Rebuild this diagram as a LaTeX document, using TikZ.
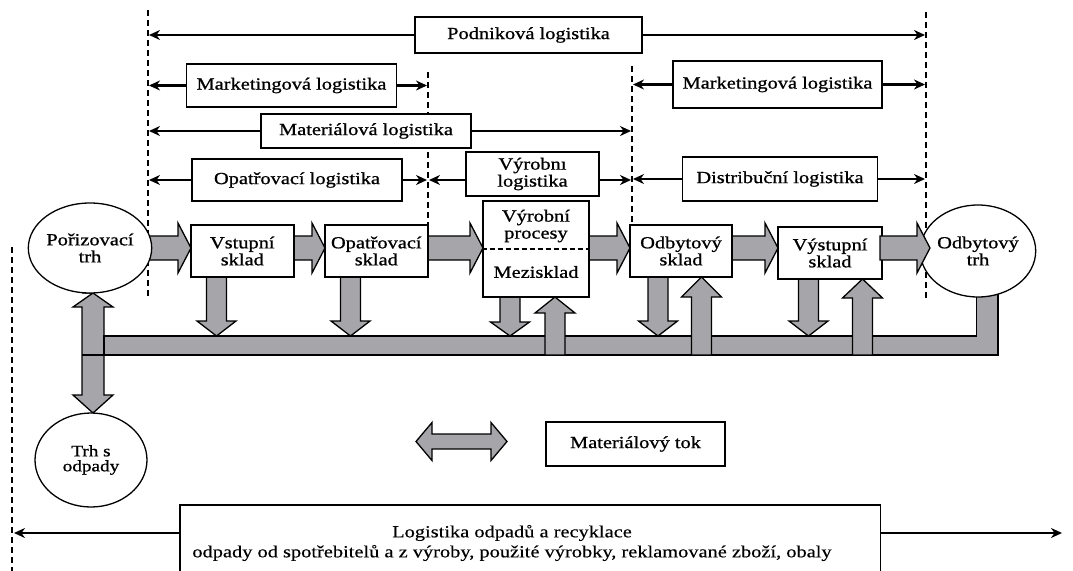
\documentclass[tikz,border=0pt]{standalone}
\usepackage{fontspec}
\setmainfont{Liberation Serif}[FakeStretch=1.2, FakeBold=0.9]
\newfontfamily\plainfont{Liberation Serif}[FakeStretch=1.2, FakeBold=0.3]
\usetikzlibrary{arrows.meta,calc,shapes.geometric}
\definecolor{flow}{RGB}{166,166,170}
\newcommand\rblk[2]{\draw[blk] (#1,236) -- ({#2-13},236) -- ({#2-13},223) -- (#2,248) -- ({#2-13},273) -- ({#2-13},260) -- (#1,260) -- cycle;}
\newcommand\dblk[4]{\draw[blk] ({#1-10},#2) -- ({#1-10},#3) -- ({#1-19.5},#3) -- (#1,#4) -- ({#1+19.5},#3) -- ({#1+10},#3) -- ({#1+10},#2) -- cycle;}
\newcommand\ublk[4]{\draw[blk] ({#1-10},#2) -- ({#1-10},#3) -- ({#1-20},#3) -- (#1,#4) -- ({#1+20},#3) -- ({#1+10},#3) -- ({#1+10},#2) -- cycle;}
\begin{document}
\begin{tikzpicture}[x=1pt,y=-1pt,
  font=\fontsize{17}{17}\selectfont,
  lab/.style={draw, line width=1.3pt, fill=white, inner sep=0pt, align=center},
  mbox/.style={draw, line width=2.6pt, fill=white, inner sep=0pt, align=center},
  mkt/.style={draw, ellipse, line width=1.3pt, fill=white, inner sep=0pt, align=center},
  tarr/.style={line width=2.6pt, shorten >=1pt, -{Stealth[length=11pt,width=10pt]}},
  dline/.style={line width=1.2pt, dash pattern=on 6pt off 4pt},
  blk/.style={draw, fill=flow, line width=1.3pt, line join=miter}]
\useasboundingbox (0,0) rectangle (1073,570);
\clip (0,0) rectangle (1073,570);

% dashed division lines
\coordinate (d1t) at (148,10);  \coordinate (d1b) at (148,298);
\coordinate (d2t) at (428,72);  \coordinate (d2b) at (428,225);
\coordinate (d3t) at (632,66);  \coordinate (d3b) at (632,225);
\coordinate (d4t) at (926,12);  \coordinate (d4b) at (926,300);
\coordinate (d5t) at (12,247);  \coordinate (d5b) at (12,572);
\draw[dline] (d1t) -- (d1b);
\draw[dline] (d2t) -- (d2b);
\draw[dline] (d3t) -- (d3b);
\draw[dline] (d4t) -- (d4b);
\draw[dline] (d5t) -- (d5b);

% logistics ranges
\node[lab, minimum width=227pt, minimum height=36pt] (pod) at (528.5,35) {Podniková logistika};
\node[lab, minimum width=210pt, minimum height=43pt] (mk1) at (291.5,85.5) {Marketingová logistika};
\node[lab, minimum width=209pt, minimum height=47pt] (mk2) at (777.5,84.5) {Marketingová logistika};
\node[lab, minimum width=210pt, minimum height=34pt] (mat) at (366,131) {Materiálová logistika};
\node[lab, minimum width=210pt, minimum height=42pt] (opl) at (297,180) {Opatřovací logistika};
\node[lab, minimum width=133pt, minimum height=44pt] (vyl) at (532.5,174) {Výrobnı\\logistika};
\node[lab, minimum width=195pt, minimum height=44pt] (dil) at (780,179) {Distribuční logistika};

\draw[tarr] (pod.west) -- (pod.west -| d1t);
\draw[tarr] (pod.east) -- (pod.east -| d4t);
\draw[tarr] (mk1.west) -- (mk1.west -| d1t);
\draw[tarr] (mk1.east) -- (mk1.east -| d2t);
\draw[tarr] (mk2.west) -- (mk2.west -| d3t);
\draw[tarr] (mk2.east) -- (mk2.east -| d4t);
\draw[tarr] (mat.west) -- (mat.west -| d1t);
\draw[tarr] (mat.east) -- (mat.east -| d3t);
\draw[tarr] (opl.west) -- (opl.west -| d1t);
\draw[tarr] (opl.east) -- (opl.east -| d2t);
\draw[tarr] (vyl.west |- opl.west) -- (d2t |- opl.west);
\draw[tarr] (vyl.east |- opl.west) -- (d3t |- opl.west);
\draw[tarr] (dil.west) -- (dil.west -| d3t);
\draw[tarr] (dil.east) -- (dil.east -| d4t);

% material bus
\draw[blk] (82,293) -- (93,293) -- (113,307) -- (104,307) -- (104,395) -- (113,395) -- (93,413) -- (73,395) -- (82,395) -- (82,307) -- (73,307) -- (93,293) -- cycle;
\draw[blk] (104,336) -- (976.5,336) -- (976.5,285) -- (998,285) -- (998,355) -- (104,355) -- cycle;
\draw[line width=1.3pt] (82,355) -- (104,355);

% vertical flows
\dblk{216.5}{270}{321}{336}
\dblk{350.5}{270}{321}{336}
\dblk{510}{290}{322}{336}
\ublk{555}{355}{313}{297}
\dblk{658}{270}{321}{336}
\ublk{701.5}{355}{297}{277}
\dblk{808.5}{272}{321}{336}
\ublk{862.5}{355}{298}{279}

% horizontal flows
\rblk{135}{191}
\rblk{290}{325}
\rblk{424}{483}
\rblk{585}{630}
\rblk{728}{778}

% main elements
\node[mkt, minimum width=110pt, minimum height=90pt] (ptrh) at (90,248) {Pořizovací\\trh};
\node[mbox, minimum width=103pt, minimum height=52pt] (vs) at (242.3,251) {Vstupní\\sklad};
\node[mbox, minimum width=103pt, minimum height=52pt] (os) at (376.3,251) {Opatřovací\\sklad};
\node[mbox, minimum width=106pt, minimum height=96pt] (vp) at (536,249) {};
\draw[line width=1.2pt, dash pattern=on 5pt off 3pt] (vp.west) -- (vp.east);
\node[align=center] (vpt) at (vp.center |- 0,226) {Výrobní\\procesy};
\node (mez) at (vp.center |- 0,272) {Mezisklad};
\node[mbox, minimum width=102pt, minimum height=52pt] (ods) at (681,251) {Odbytový\\sklad};
\node[mbox, minimum width=104pt, minimum height=52pt] (vys) at (830,253) {Výstupní\\sklad};
\node[mkt, minimum width=110pt, minimum height=92pt] (otrh) at (978,251) {Odbytový\\trh};
\node[mkt, minimum width=112pt, minimum height=94pt, font=\fontsize{16}{15}\selectfont] (tso) at (91,460) {Trh s\\odpady};
\rblk{880}{930}

% legend
\draw[blk] (416,441.5) -- (432,422.5) -- (432,434) -- (491,434) -- (491,422.5) -- (507,441.5) -- (491,460.5) -- (491,449) -- (432,449) -- (432,460.5) -- cycle;
\node[lab, minimum width=179pt, minimum height=44pt] (mtok) at (635.5,444) {Materiálový tok};

% waste logistics
\node[draw, line width=1.3pt, fill=white, minimum width=700.7pt, minimum height=80pt] (lbox) at (530.3,545) {};
\node[align=center, font=\plainfont\fontsize{17}{20}\selectfont] (ltxt) at (512,543) {Logistika odpadů a recyklace\\odpady od spotřebitelů a z výroby, použité výrobky, reklamované zboží, obaly};
\coordinate (la) at (13,533);
\coordinate (ra) at (1063,533);
\draw[tarr] (lbox.west |- la) -- (la);
\draw[tarr] (lbox.east |- ra) -- (ra);
\end{tikzpicture}
\end{document}
